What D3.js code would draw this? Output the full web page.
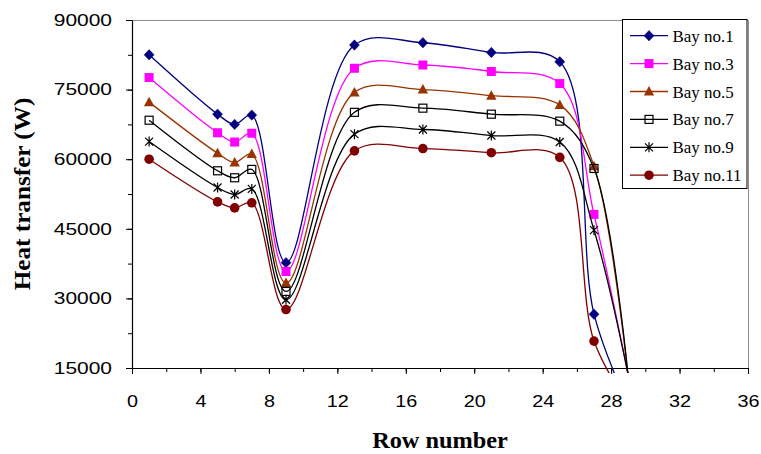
<!DOCTYPE html>
<html>
<head>
<meta charset="utf-8">
<script src="https://cdn.jsdelivr.net/npm/d3@7/dist/d3.min.js"></script>
<style>
  html, body { margin: 0; padding: 0; background: #fff; }
  svg { display: block; }
</style>
</head>
<body>
<svg id="chart" width="761" height="454"></svg>
<script>
// Row positions along the duct and heat transfer (W) for each bay
const rows = [1, 5, 6, 7, 9, 13, 17, 21, 25, 27, 29];
const bay1  = [82500, 69700, 67500, 69500, 37700, 84600, 85100, 83000, 81000, 26600, 7000];
const bay3  = [77600, 65700, 63700, 65600, 35800, 79600, 80300, 78900, 76300, 48100, 13500];
const bay5  = [72300, 61300, 59300, 61100, 33300, 74400, 75000, 73700, 71700, 58500, 13000];
const bay7  = [68400, 57500, 56000, 57800, 31500, 70100, 71000, 69700, 68200, 58000, 13000];
const bay9  = [63800, 53900, 52400, 53600, 29700, 65400, 66400, 65100, 63700, 44700, 13500];
const bay11 = [60000, 50800, 49500, 50600, 27600, 61800, 62300, 61400, 60400, 20800, 7200];

const seriesNames = ["Bay no.1", "Bay no.3", "Bay no.5", "Bay no.7", "Bay no.9", "Bay no.11"];
const seriesValues = [bay1, bay3, bay5, bay7, bay9, bay11];

const xTicks = [0, 4, 8, 12, 16, 20, 24, 28, 32, 36];
const yTicks = [15000, 30000, 45000, 60000, 75000, 90000];
const xLabel = "Row number";
const yLabel = "Heat transfer (W)";

const styles = [
  { color: "#000080", marker: "diamond" },
  { color: "#ff00ff", marker: "square" },
  { color: "#993300", marker: "triangle" },
  { color: "#000000", marker: "openSquare" },
  { color: "#000000", marker: "asterisk" },
  { color: "#800000", marker: "circle" }
];

const svg = d3.select("#chart");
const plotLeft = 132, plotRight = 748, plotTop = 20, plotBottom = 368;

const x = d3.scaleLinear().domain([0, 36]).range([plotLeft, plotRight]);
const y = d3.scaleLinear().domain([15000, 90000]).range([plotBottom, plotTop]);

const sans = "'Liberation Sans', Arial, sans-serif";
const serif = "'Liberation Serif', 'Times New Roman', serif";

function stretch(sel, k) {
  sel.each(function () {
    const len = this.getComputedTextLength();
    d3.select(this).attr("textLength", len * k).attr("lengthAdjust", "spacingAndGlyphs");
  });
}

// Plot-area frame (top and right edges)
svg.append("path")
  .attr("d", `M${plotLeft},${plotTop + 0.5}H${plotRight + 0.5}V${plotBottom}`)
  .attr("fill", "none").attr("stroke", "#8c8c8c").attr("stroke-width", 1);

// Minor ticks
const yMinor = d3.range(15000, 90001, 7500);
const xMinor = d3.range(0, 37, 2);
svg.append("g").attr("transform", `translate(${plotLeft},0)`)
  .call(d3.axisLeft(y).tickValues(yMinor).tickSize(4).tickFormat("").tickSizeOuter(0))
  .call(g => g.select(".domain").remove());
svg.append("g").attr("transform", `translate(0,${plotBottom})`)
  .call(d3.axisBottom(x).tickValues(xMinor).tickSize(4).tickFormat("").tickSizeOuter(0))
  .call(g => g.select(".domain").remove());

// Major axes
const yAxis = svg.append("g").attr("transform", `translate(${plotLeft},0)`)
  .call(d3.axisLeft(y).tickValues(yTicks).tickSize(6).tickPadding(14).tickSizeOuter(0).tickFormat(d3.format("d")));
const xAxis = svg.append("g").attr("transform", `translate(0,${plotBottom})`)
  .call(d3.axisBottom(x).tickValues(xTicks).tickSize(6).tickPadding(21).tickSizeOuter(0).tickFormat(d3.format("d")));

[yAxis, xAxis].forEach(g => {
  g.selectAll("path.domain").attr("stroke", "#000").attr("stroke-width", 1.2);
  g.selectAll(".tick line").attr("stroke", "#000");
  g.selectAll("text").attr("font-family", sans).attr("font-size", "16.5px").attr("fill", "#000");
});
stretch(yAxis.selectAll("text"), 1.27);
stretch(xAxis.selectAll("text"), 1.2);

// Axis titles
const xt = svg.append("text")
  .attr("x", (plotLeft + plotRight) / 2).attr("y", 448)
  .attr("text-anchor", "middle")
  .attr("font-family", serif).attr("font-weight", "bold").attr("font-size", "22.5px")
  .text(xLabel);
stretch(xt, 1.08);

const yt = svg.append("text")
  .attr("transform", `translate(29.5,${(plotTop + plotBottom) / 2}) rotate(-90)`)
  .attr("text-anchor", "middle")
  .attr("font-family", serif).attr("font-weight", "bold").attr("font-size", "22.5px")
  .text(yLabel);
stretch(yt, 1.12);

// Clip lines a few pixels below the x axis
svg.append("clipPath").attr("id", "plotClip")
  .append("rect").attr("x", 0).attr("y", 0).attr("width", 761).attr("height", plotBottom + 5);

const line = d3.line()
  .x(d => x(d.row))
  .y(d => y(d.value))
  .curve(d3.curveCatmullRom.alpha(0.5));

function drawMarker(g, type, color, cx, cy) {
  switch (type) {
    case "diamond":
      g.append("path").attr("d", `M${cx},${cy - 5.2}L${cx + 5},${cy}L${cx},${cy + 5.2}L${cx - 5},${cy}Z`)
        .attr("fill", color).attr("stroke", color).attr("stroke-width", 0.5);
      break;
    case "square":
      g.append("rect").attr("x", cx - 4.5).attr("y", cy - 4.5).attr("width", 9).attr("height", 9)
        .attr("fill", color);
      break;
    case "triangle":
      g.append("path").attr("d", `M${cx},${cy - 5.5}L${cx + 5.2},${cy + 4}L${cx - 5.2},${cy + 4}Z`)
        .attr("fill", color);
      break;
    case "openSquare":
      g.append("rect").attr("x", cx - 4).attr("y", cy - 4).attr("width", 8).attr("height", 8)
        .attr("fill", "none").attr("stroke", color).attr("stroke-width", 1.2);
      break;
    case "asterisk":
      g.append("path")
        .attr("d", `M${cx - 4},${cy - 4}L${cx + 4},${cy + 4}M${cx - 4},${cy + 4}L${cx + 4},${cy - 4}M${cx},${cy - 5}L${cx},${cy + 5}`)
        .attr("fill", "none").attr("stroke", color).attr("stroke-width", 1.2);
      break;
    case "circle":
      g.append("circle").attr("cx", cx).attr("cy", cy).attr("r", 4.8).attr("fill", color);
      break;
  }
}

// Series
seriesValues.forEach((vals, i) => {
  const data = rows.map((r, j) => ({ row: r, value: vals[j] }));
  const st = styles[i];
  const g = svg.append("g");
  g.append("path")
    .attr("d", line(data))
    .attr("clip-path", "url(#plotClip)")
    .attr("fill", "none").attr("stroke", st.color).attr("stroke-width", 1.3);
  data.filter(d => d.value >= 15000).forEach(d => drawMarker(g, st.marker, st.color, x(d.row), y(d.value)));
});

// Legend
const lg = svg.append("g");
lg.append("rect").attr("x", 622.5).attr("y", 19.5).attr("width", 124.5).attr("height", 169)
  .attr("fill", "#fff").attr("stroke", "#000").attr("stroke-width", 1);
seriesNames.forEach((name, i) => {
  const cy = 35.7 + i * 27.9;
  const st = styles[i];
  lg.append("line").attr("x1", 630).attr("x2", 668).attr("y1", cy).attr("y2", cy)
    .attr("stroke", st.color).attr("stroke-width", 1.3);
  drawMarker(lg, st.marker, st.color, 649, cy);
  const t = lg.append("text").attr("x", 672.5).attr("y", cy + 6)
    .attr("font-family", serif).attr("font-size", "16px").attr("fill", "#000")
    .text(name);
  stretch(t, 1.06);
});
</script>
</body>
</html>
